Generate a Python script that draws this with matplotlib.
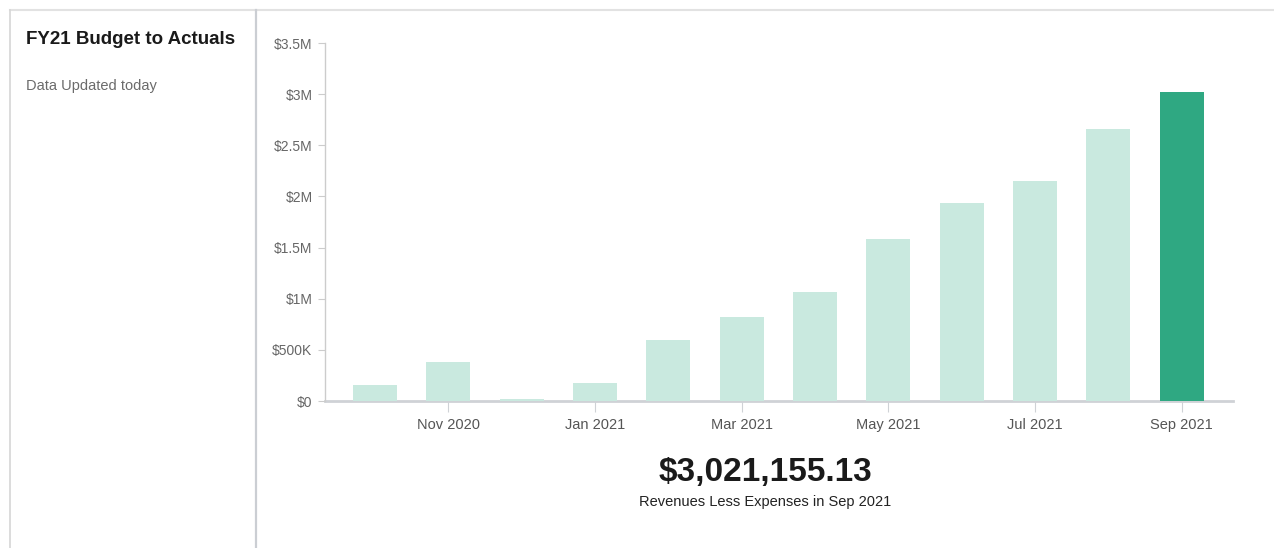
import matplotlib
matplotlib.use("Agg")
import matplotlib.pyplot as plt
from matplotlib.lines import Line2D
from matplotlib.ticker import FixedLocator

plt.rcParams['font.family'] = ['Liberation Sans', 'DejaVu Sans']

months = ["Oct 2020", "Nov 2020", "Dec 2020", "Jan 2021", "Feb 2021", "Mar 2021",
          "Apr 2021", "May 2021", "Jun 2021", "Jul 2021", "Aug 2021", "Sep 2021"]
values = [156000, 381000, 18000, 176000, 596000, 821000,
          1065000, 1583000, 1935000, 2150000, 2658000, 3021155.13]
ytick_vals = [0, 500000, 1000000, 1500000, 2000000, 2500000, 3000000, 3500000]
ytick_labels = ["$0", "$500K", "$1M", "$1.5M", "$2M", "$2.5M", "$3M", "$3.5M"]
xtick_labels = ["Nov 2020", "Jan 2021", "Mar 2021", "May 2021", "Jul 2021", "Sep 2021"]

light = "#c9e9df"
dark = "#2fa882"

W, H = 1274, 548
fig = plt.figure(figsize=(W / 100, H / 100), dpi=100)

def fx(px):
    return px / W

def fy(py):
    return 1 - py / H

# panel borders
border = "#d6d6d6"
fig.add_artist(Line2D([fx(10), fx(1274)], [fy(10), fy(10)], color="#e2e2e2", lw=1.5))
fig.add_artist(Line2D([fx(10), fx(10)], [fy(10), fy(548)], color=border, lw=1.2))
fig.add_artist(Line2D([fx(255.5), fx(255.5)], [fy(10), fy(548)], color="#cbced3", lw=1.6))

# left panel text
fig.text(fx(26), fy(39.5), "FY21 Budget to Actuals", fontsize=13.5, fontweight="bold",
         color="#1a1a1a", va="center", ha="left")
fig.text(fx(26), fy(86), "Data Updated today", fontsize=10.5, color="#6b6b6b",
         va="center", ha="left")

# chart axes
ax = fig.add_axes([fx(325), fy(401), fx(1233) - fx(325), (401 - 43) / H])
x = list(range(len(months)))
colors = [light] * (len(values) - 1) + [dark]
ax.bar(x, values, width=0.6, color=colors, zorder=2)
ax.set_xlim(-0.68, len(months) - 1 + 0.70)
ax.set_ylim(0, 3500000)

ax.yaxis.set_major_locator(FixedLocator(ytick_vals))
ax.set_yticklabels(ytick_labels)
tick_pos = [months.index(m) for m in xtick_labels]
ax.set_xticks(tick_pos)
ax.set_xticklabels(xtick_labels)

for s in ["top", "right"]:
    ax.spines[s].set_visible(False)
ax.spines["left"].set_color("#cccccc")
ax.spines["left"].set_linewidth(1.0)
ax.spines["bottom"].set_color("#cfd2d6")
ax.spines["bottom"].set_linewidth(2.0)
ax.spines["bottom"].set_zorder(1.5)

ax.tick_params(axis="y", length=5, color="#cccccc", labelsize=10, labelcolor="#666666", pad=4)
ax.tick_params(axis="x", length=8, color="#cfd2d6", labelsize=10.5, labelcolor="#555555", pad=4)

# summary
fig.text(fx(765), fy(472), "$3,021,155.13", fontsize=24, fontweight="bold",
         color="#1a1a1a", ha="center", va="center")
fig.text(fx(765), fy(502), "Revenues Less Expenses in Sep 2021", fontsize=10.5,
         color="#222222", ha="center", va="center")

fig.savefig("out.png", dpi=100)
